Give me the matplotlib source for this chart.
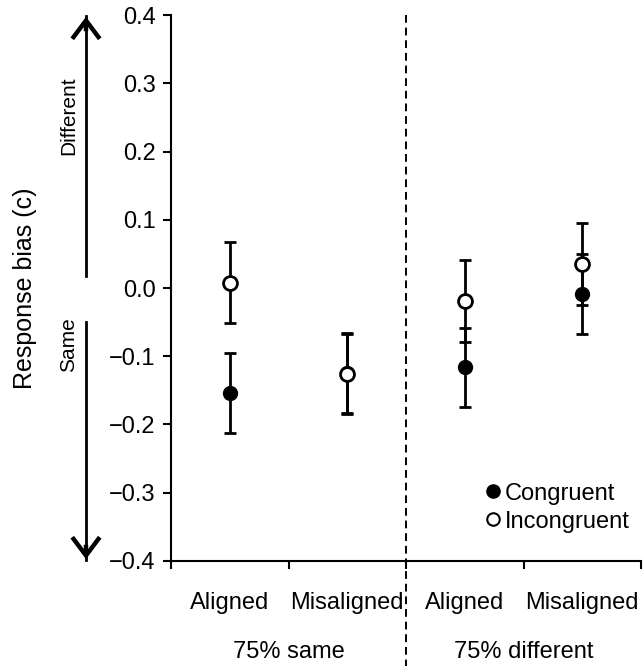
import numpy as np
import matplotlib.pyplot as plt
from matplotlib.patches import FancyArrowPatch
from matplotlib.lines import Line2D
import matplotlib.transforms as mtransforms

plt.rcParams['font.family'] = ['Liberation Sans', 'DejaVu Sans']

# conditions and values
conditions = ['Aligned', 'Misaligned', 'Aligned', 'Misaligned']
groups = ['75% same', '75% different']
congruent = [-0.154, -0.125, -0.116, -0.009]
congruent_err = [0.058, 0.059, 0.058, 0.059]
incongruent = [0.008, -0.126, -0.019, 0.035]
incongruent_err = [0.059, 0.059, 0.060, 0.060]

xpos = np.arange(len(conditions)) + 0.5
fs = 17

fig = plt.figure(figsize=(6.43, 6.66), dpi=100)
ax = fig.add_axes([0.266, 0.158, 0.731, 0.819])

# error bars + markers (congruent first, open markers on top)
ax.errorbar(xpos, congruent, yerr=congruent_err, fmt='o', color='k', mfc='k', mec='k',
            ms=10, elinewidth=2, capsize=4.5, capthick=2, zorder=3)
ax.errorbar(xpos, incongruent, yerr=incongruent_err, fmt='o', color='k', mfc='white', mec='k',
            mew=2, ms=10, elinewidth=2, capsize=4.5, capthick=2, zorder=4)

ax.set_xlim(0, 4)
ax.set_ylim(-0.4, 0.4)
ax.set_yticks(np.arange(-0.4, 0.41, 0.1))
ax.yaxis.set_major_formatter(plt.FuncFormatter(
    lambda v, p: ('%.1f' % v).replace('-', '\u2212') if abs(v) > 1e-9 else '0.0'))
ax.set_xticks(np.arange(0, 5))
ax.set_xticklabels([])
ax.tick_params(axis='both', direction='out', length=6, width=1.5, labelsize=fs)
ax.tick_params(axis='y', pad=5)
for s in ['top', 'right']:
    ax.spines[s].set_visible(False)
for s in ['left', 'bottom']:
    ax.spines[s].set_linewidth(1.5)

# dashed separator, running below the axis
ax.plot([2, 2], [0.4, -0.58], ls=(0, (4, 2.5)), color='k', lw=1.4, clip_on=False, zorder=1)

# condition labels and group labels
trans = mtransforms.blended_transform_factory(ax.transData, fig.transFigure)
for x, c in zip(xpos, conditions):
    ax.text(x, 1 - 603 / 666, c, transform=trans, ha='center', va='center', fontsize=fs)
for x, g in zip([1, 3], groups):
    ax.text(x, 1 - 652 / 666, g, transform=trans, ha='center', va='center', fontsize=fs)

# y label and direction arrows (thin shaft, heavier chevron head)
fig.text(25 / 643, 1 - 288 / 666, 'Response bias (c)', rotation=90, ha='center', va='center', fontsize=18)
ax_x = 86 / 643
for y0, y1 in [(276, 14), (322, 562)]:
    fig.add_artist(Line2D([ax_x, ax_x], [1 - y0 / 666, 1 - (y1 + np.sign(y0 - y1) * 2) / 666],
                          transform=fig.transFigure, color='k', lw=2))
    fig.patches.append(FancyArrowPatch((ax_x, 1 - (y1 + np.sign(y0 - y1) * 20) / 666), (ax_x, 1 - y1 / 666),
                                       transform=fig.transFigure,
                                       arrowstyle='->,head_length=0.6,head_width=0.45', lw=3.2, color='k',
                                       mutation_scale=22, joinstyle='miter', capstyle='butt'))
fig.text(69 / 643, 1 - 116 / 666, 'Different', rotation=90, ha='center', va='center', fontsize=15)
fig.text(69 / 643, 1 - 345 / 666, 'Same', rotation=90, ha='center', va='center', fontsize=15)

# legend (markers only)
handles = [Line2D([], [], ls='none', marker='o', ms=9, mfc='k', mec='k', mew=1.5),
           Line2D([], [], ls='none', marker='o', ms=9, mfc='white', mec='k', mew=1.5)]
ax.legend(handles, ['Congruent', 'Incongruent'], loc='lower right', bbox_to_anchor=(1.0, 0.03),
          frameon=False, fontsize=fs, handletextpad=0.0, labelspacing=0.25, handlelength=1.0,
          borderpad=0)

fig.savefig('out.png', dpi=100)
